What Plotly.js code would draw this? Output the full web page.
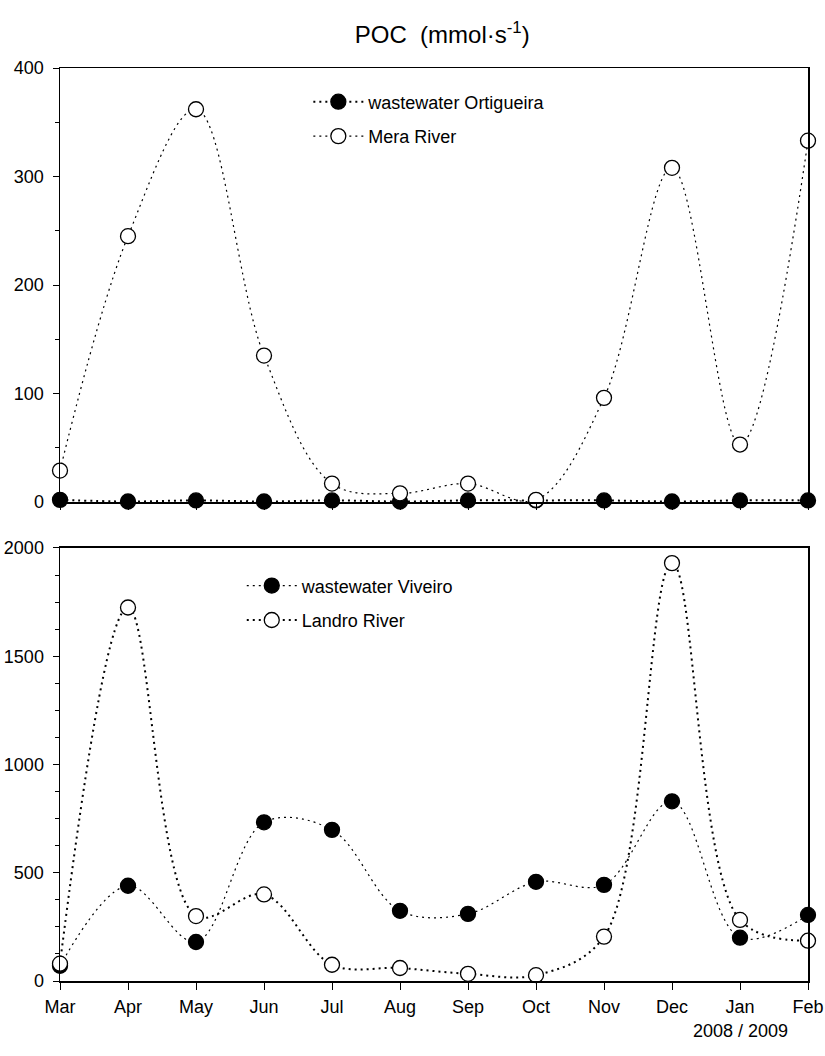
<!DOCTYPE html>
<html>
<head>
<meta charset="utf-8">
<script src="https://cdn.plot.ly/plotly-3.0.1.min.js"></script>
<style>html,body{margin:0;padding:0;background:#fff;}#chart{width:825px;height:1056px;}</style>
</head>
<body>
<div id="chart"></div>
<script>
const months = ["Mar","Apr","May","Jun","Jul","Aug","Sep","Oct","Nov","Dec","Jan","Feb"];
const wastewaterOrtigueira = [2, 0.5, 1.5, 0.5, 1.5, 0.5, 1.5, 1.5, 1.5, 0.5, 1.5, 1.5];
const meraRiver = [29, 245, 362, 135, 17, 8, 17, 2, 96, 308, 53, 333];
const wastewaterViveiro = [70, 440, 180, 733, 698, 324, 310, 458, 444, 830, 200, 305];
const landroRiver = [80, 1725, 300, 400, 75, 60, 33, 27, 205, 1930, 282, 186];
const periodLabel = "2008 / 2009";

const fnt = {family: "Liberation Sans, Arial, sans-serif", size: 18, color: "#000"};

function tr(y, name, filled, xa, ya, leg, heavy) {
  return {
    x: months, y: y, name: name, type: "scatter", mode: "lines+markers",
    xaxis: xa, yaxis: ya, legend: leg,
    legendgroup: name,
    line: {shape: "spline", smoothing: 1, color: "#000", width: heavy ? 2 : 1.2, dash: "2px,4px"},
    marker: {symbol: "circle", size: 15, color: filled ? "#000" : "#fff", line: {color: "#000", width: 1.3}},
    cliponaxis: false
  };
}

const data = [
  tr(wastewaterOrtigueira, "wastewater Ortigueira", true, "x", "y", "legend", true),
  tr(meraRiver, "Mera River", false, "x", "y", "legend", false),
  tr(wastewaterViveiro, "wastewater Viveiro", true, "x2", "y2", "legend2", false),
  tr(landroRiver, "Landro River", false, "x2", "y2", "legend2", true)
];

const axBase = {
  showline: true, linecolor: "#000", linewidth: 1.5, mirror: true,
  showgrid: false, zeroline: false, ticks: "outside", tickcolor: "#000",
  tickfont: fnt
};

const layout = {
  width: 825, height: 1056,
  paper_bgcolor: "#fff", plot_bgcolor: "#fff",
  margin: {l: 60, r: 17, t: 68, b: 75},
  font: fnt,
  title: {text: "POC  (mmol·s<sup>-1</sup>)", font: {family: "Liberation Sans, Arial, sans-serif", size: 24, color: "#000"}, x: 0.536, xanchor: "center", y: 0.967, yanchor: "middle"},
  xaxis: Object.assign({}, axBase, {type: "category", range: [0, 11], domain: [0, 1], anchor: "y", showticklabels: false, ticklen: 6}),
  yaxis: Object.assign({}, axBase, {range: [0, 400], domain: [0.5246, 1], anchor: "x", tickvals: [0,100,200,300,400], ticklen: 6, ticklabelstandoff: 5,
    minor: {tickvals: [50,150,250,350], ticks: "outside", ticklen: 4, tickcolor: "#000"}}),
  xaxis2: Object.assign({}, axBase, {type: "category", range: [0, 11], domain: [0, 1], anchor: "y2", ticklen: 7, ticklabelstandoff: 2}),
  yaxis2: Object.assign({}, axBase, {range: [0, 2000], domain: [0, 0.4743], anchor: "x2", tickvals: [0,500,1000,1500,2000], ticklen: 6, ticklabelstandoff: 5,
    minor: {dtick: 125, tick0: 0, ticks: "outside", ticklen: 4, tickcolor: "#000"}}),
  legend: {x: 0.332, xanchor: "left", y: 0.983, yanchor: "top", bgcolor: "rgba(0,0,0,0)", font: fnt, itemwidth: 50, traceorder: "grouped", tracegroupgap: 8},
  legend2: {x: 0.243, xanchor: "left", y: 0.453, yanchor: "top", bgcolor: "rgba(0,0,0,0)", font: fnt, itemwidth: 50, traceorder: "grouped", tracegroupgap: 8},
  annotations: [
    {text: periodLabel, xref: "paper", yref: "paper", x: 0.91, y: -0.042, xanchor: "center", yanchor: "top", showarrow: false, font: fnt}
  ],
  showlegend: true
};

Plotly.newPlot("chart", data, layout, {displayModeBar: false, staticPlot: true});
</script>
</body>
</html>
